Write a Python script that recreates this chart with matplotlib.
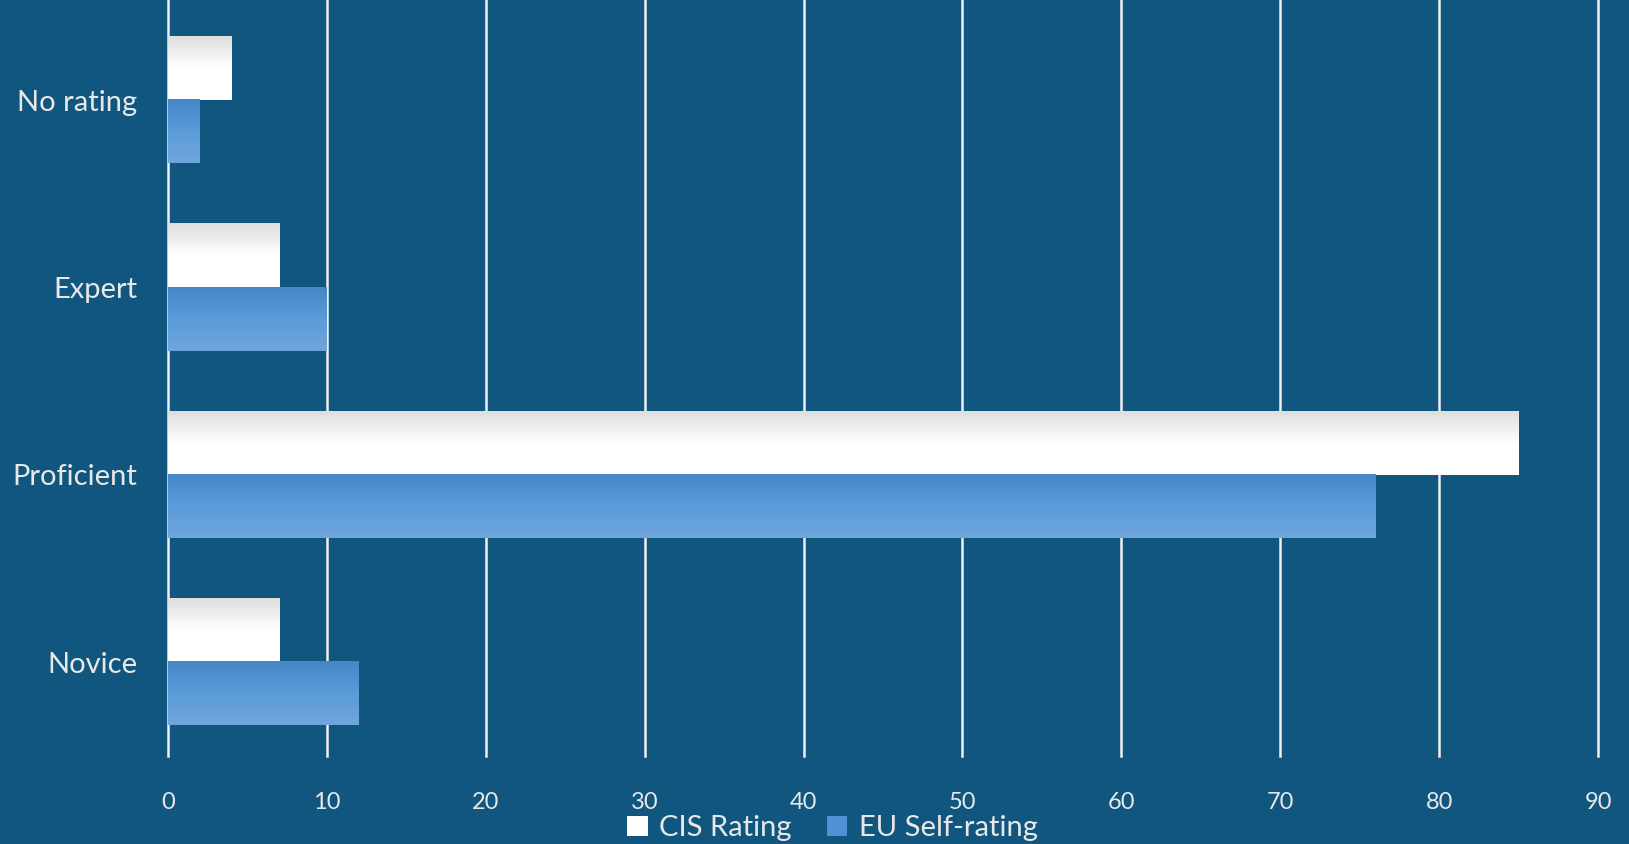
import numpy as np
import matplotlib
matplotlib.use("Agg")
import matplotlib.pyplot as plt
from matplotlib.colors import LinearSegmentedColormap
from matplotlib.patches import Patch

# data
categories = ["Novice", "Proficient", "Expert", "No rating"]
cis_rating = [7, 85, 7, 4]
eu_self = [12, 76, 10, 2]
xticks = [0, 10, 20, 30, 40, 50, 60, 70, 80, 90]

bg = "#10567f"
txt = "#e8e8e8"
plt.rcParams["font.family"] = ["Lato", "DejaVu Sans"]

fig = plt.figure(figsize=(16.29, 8.44), dpi=100, facecolor=bg)
ax = fig.add_axes([0.1031, 0.1043, 0.8779, 0.8957])
ax.set_facecolor(bg)

h = 0.337
y = np.arange(len(categories))

white_cm = LinearSegmentedColormap.from_list("w", [(0, "#dedede"), (0.5, "#ffffff"), (1, "#ffffff")])
blue_cm = LinearSegmentedColormap.from_list("b", ["#4687c7", "#5a9bd9", "#70a6dc"])
grad = np.linspace(0, 1, 100).reshape(-1, 1)

b1 = ax.barh(y + h / 2, cis_rating, height=h, color="none", zorder=3)
b2 = ax.barh(y - h / 2, eu_self, height=h, color="none", zorder=3)
for bars, cm in [(b1, white_cm), (b2, blue_cm)]:
    for p in bars:
        x0, y0 = p.get_x(), p.get_y()
        ax.imshow(grad, cmap=cm, aspect="auto", zorder=3,
                  extent=(x0, x0 + p.get_width(), y0, y0 + p.get_height()))

ax.set_xlim(0, 90)
ax.set_ylim(-0.5, 3.534)
ax.set_xticks(xticks)
ax.set_yticks(y)
ax.set_yticklabels(categories)
ax.grid(axis="x", color="#f0f0f0", linewidth=1.8, zorder=1)
for gl in ax.get_xgridlines():
    gl.set_clip_on(False)
ax.set_axisbelow(True)
for s in ax.spines.values():
    s.set_visible(False)
ax.tick_params(axis="y", length=0, pad=22, labelsize=21, labelcolor=txt)
ax.tick_params(axis="x", length=0, pad=26, labelsize=17, labelcolor=txt)

handles = [Patch(facecolor="#ffffff", label="CIS Rating"),
           Patch(facecolor="#4f92d4", label="EU Self-rating")]
fig.legend(handles=handles, loc="lower center", bbox_to_anchor=(0.511, -0.028), ncol=2,
           frameon=False, fontsize=21, labelcolor=txt, handlelength=0.7, handleheight=0.7,
           handletextpad=0.4, columnspacing=1.2)

fig.savefig("out.png", dpi=100, facecolor=bg)
